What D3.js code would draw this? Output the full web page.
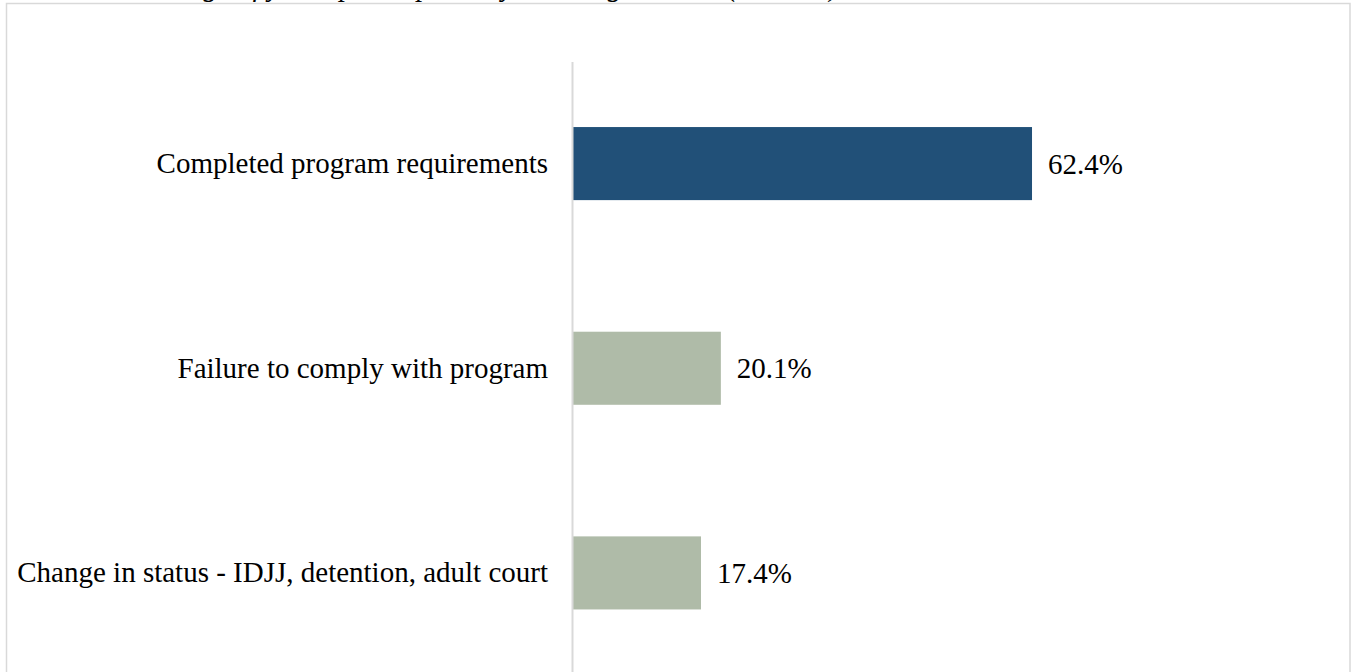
<!DOCTYPE html>
<html>
<head>
<meta charset="utf-8">
<script src="https://cdn.jsdelivr.net/npm/d3@7"></script>
<style>
  html, body { margin: 0; padding: 0; background: #ffffff; overflow: hidden; }
  svg { display: block; }
  text { font-family: "Liberation Serif", "Times New Roman", serif; fill: #000; }
</style>
</head>
<body>
<svg id="chart" width="1354" height="672"></svg>
<script>
// Discharge reasons and share of participants (%)
const categories = [
  "Completed program requirements",
  "Failure to comply with program",
  "Change in status - IDJJ, detention, adult court"
];
const values = [62.4, 20.1, 17.4];
const barColors = ["#215078", "#afbba8", "#afbba8"];
const titleText = "Percentage of youth participants by discharge reason (n = 149)";

const svg = d3.select("#chart");
const W = 1354, H = 672;

// Outer frame of the chart area
svg.append("rect")
  .attr("x", 6.5).attr("y", 3.5)
  .attr("width", 1343.5).attr("height", 720)
  .attr("fill", "none")
  .attr("stroke", "#d9d9d9")
  .attr("stroke-width", 1.5);

// Title sits above the frame
svg.append("text")
  .attr("x", 100).attr("y", -4)
  .attr("font-style", "italic")
  .attr("font-size", 29)
  .text(titleText);

const x0 = 573;
const x = d3.scaleLinear().domain([0, 100]).range([x0, x0 + 735.6]);
const y = d3.scaleBand()
  .domain(categories)
  .range([61.25, 675.25])
  .paddingInner(0.643)
  .paddingOuter(0.3215);

// Bars
svg.append("g").selectAll("rect")
  .data(categories)
  .join("rect")
  .attr("x", x(0))
  .attr("y", d => y(d))
  .attr("width", (d, i) => x(values[i]) - x(0))
  .attr("height", y.bandwidth())
  .attr("fill", (d, i) => barColors[i]);

// Category axis on the left
const yAxis = d3.axisLeft(y).tickSize(0).tickPadding(24);
const gAxis = svg.append("g")
  .attr("transform", `translate(${x0 - 1},0)`)
  .call(yAxis);
gAxis.select(".domain").remove();
gAxis.selectAll("text")
  .style("font-family", "'Liberation Serif', 'Times New Roman', serif")
  .attr("font-size", 29)
  .attr("fill", "#000");

// Vertical baseline
svg.append("line")
  .attr("x1", x0 - 0.5).attr("x2", x0 - 0.5)
  .attr("y1", 62).attr("y2", H)
  .attr("stroke", "#d9d9d9")
  .attr("stroke-width", 2);

// Value labels
svg.append("g").selectAll("text")
  .data(categories)
  .join("text")
  .attr("x", (d, i) => x(values[i]) + 16)
  .attr("y", d => y(d) + y.bandwidth() / 2)
  .attr("dy", "0.35em")
  .attr("font-size", 29)
  .text((d, i) => values[i].toFixed(1) + "%");
</script>
</body>
</html>
